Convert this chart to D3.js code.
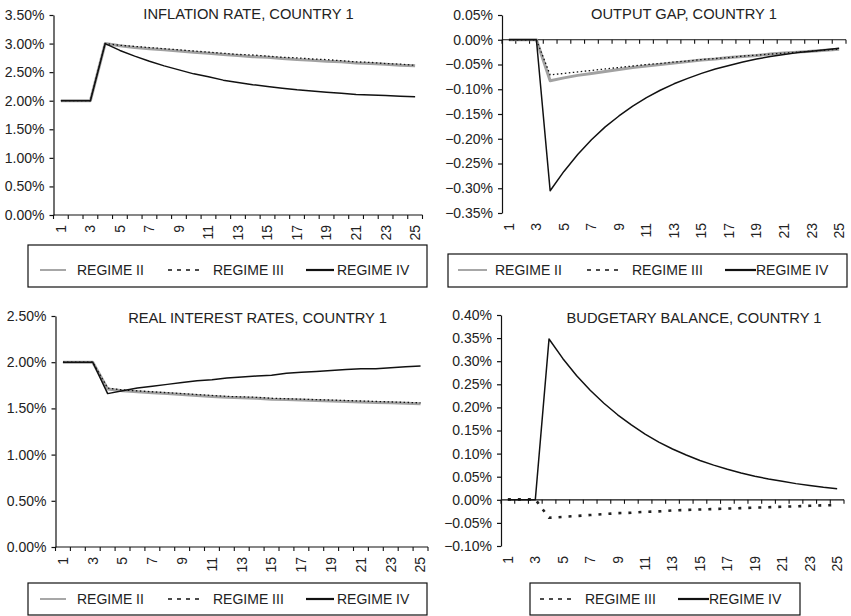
<!DOCTYPE html>
<html>
<head>
<meta charset="utf-8">
<script src="https://cdn.jsdelivr.net/npm/d3@7"></script>
<style>
  html, body { margin: 0; padding: 0; background: #fff; }
  svg { display: block; }
  text { font-family: "Liberation Sans", Arial, Helvetica, sans-serif; fill: #222; }
</style>
</head>
<body>
<svg id="chart" width="851" height="616"></svg>
<script>
// ---------------- DATA ----------------
const categories = [1,2,3,4,5,6,7,8,9,10,11,12,13,14,15,16,17,18,19,20,21,22,23,24,25];
const xTickLabels = [1,3,5,7,9,11,13,15,17,19,21,23,25];

// Inflation rate, country 1 (%)
const inflII  = [2.00,2.00,2.00,3.00,2.96,2.93,2.91,2.89,2.87,2.85,2.83,2.81,2.79,2.77,2.76,2.74,2.72,2.71,2.69,2.68,2.66,2.65,2.64,2.62,2.61];
const inflIII = [2.00,2.00,2.00,3.00,2.97,2.95,2.93,2.91,2.89,2.87,2.85,2.83,2.81,2.80,2.78,2.76,2.75,2.73,2.72,2.70,2.68,2.67,2.65,2.64,2.62];
const inflIV  = [2.00,2.00,2.00,3.00,2.88,2.78,2.69,2.61,2.54,2.47,2.42,2.36,2.32,2.28,2.25,2.22,2.19,2.17,2.15,2.13,2.11,2.10,2.09,2.08,2.07];
const inflTicks = [0,0.5,1,1.5,2,2.5,3,3.5];

// Output gap, country 1 (%)
const gapII  = [0,0,0,-0.083,-0.077,-0.072,-0.068,-0.064,-0.060,-0.056,-0.053,-0.050,-0.047,-0.044,-0.041,-0.039,-0.036,-0.034,-0.032,-0.029,-0.027,-0.025,-0.023,-0.021,-0.019];
const gapIII = [0,0,0,-0.071,-0.068,-0.065,-0.062,-0.059,-0.056,-0.053,-0.050,-0.048,-0.045,-0.043,-0.040,-0.038,-0.036,-0.033,-0.031,-0.029,-0.027,-0.025,-0.023,-0.021,-0.019];
const gapIV  = [0,0,0,-0.305,-0.266,-0.232,-0.202,-0.176,-0.154,-0.134,-0.117,-0.102,-0.089,-0.078,-0.068,-0.059,-0.052,-0.045,-0.039,-0.034,-0.030,-0.026,-0.023,-0.020,-0.017];
const gapTicks = [-0.35,-0.30,-0.25,-0.20,-0.15,-0.10,-0.05,0,0.05];

// Real interest rates, country 1 (%)
const rateII  = [2.00,2.00,2.00,1.71,1.69,1.68,1.67,1.66,1.65,1.64,1.63,1.62,1.615,1.61,1.60,1.595,1.59,1.585,1.58,1.575,1.57,1.565,1.56,1.555,1.55];
const rateIII = [2.00,2.00,2.00,1.72,1.70,1.69,1.68,1.67,1.66,1.65,1.64,1.63,1.625,1.62,1.61,1.605,1.60,1.595,1.59,1.585,1.58,1.575,1.57,1.565,1.56];
const rateIV  = [2.00,2.00,2.00,1.66,1.69,1.72,1.74,1.76,1.78,1.80,1.81,1.83,1.84,1.85,1.86,1.88,1.89,1.90,1.91,1.92,1.93,1.93,1.94,1.95,1.96];
const rateTicks = [0,0.5,1,1.5,2,2.5];

// Budgetary balance, country 1 (%)
const budgetIII = [0.001,0.001,0.001,-0.039,-0.037,-0.035,-0.033,-0.031,-0.029,-0.028,-0.026,-0.025,-0.023,-0.022,-0.021,-0.020,-0.019,-0.018,-0.017,-0.016,-0.015,-0.014,-0.013,-0.012,-0.011];
const budgetIV  = [0,0,0,0.348,0.306,0.269,0.237,0.209,0.184,0.162,0.142,0.125,0.110,0.097,0.085,0.075,0.066,0.058,0.051,0.045,0.040,0.035,0.031,0.027,0.024];
const budgetTicks = [-0.10,-0.05,0,0.05,0.10,0.15,0.20,0.25,0.30,0.35,0.40];

const titles = ["INFLATION RATE, COUNTRY 1","OUTPUT GAP, COUNTRY 1","REAL INTEREST RATES, COUNTRY 1","BUDGETARY BALANCE, COUNTRY 1"];
const regimeNames = {II: "REGIME II", III: "REGIME III", IV: "REGIME IV"};

// ---------------- STYLES ----------------
const styles = {
  II:  {stroke: "#a2a2a2", width: 3, dash: null},
  III: {stroke: "#111", width: 1.3, dash: "1.5,2.5"},
  IIIb:{stroke: "#222", width: 2.6, dash: "3,7"},
  IV:  {stroke: "#111", width: 1.5, dash: null}
};
const legendStyles = {
  II:  {stroke: "#8a8a8a", width: 1.5, dash: null},
  III: {stroke: "#111", width: 1.3, dash: "4,5"},
  IIIb:{stroke: "#111", width: 1.3, dash: "4,5"},
  IV:  {stroke: "#111", width: 2.2, dash: null}
};

const svg = d3.select("#chart");
const fmt = d => d3.format(".2f")(d) + "%";

function drawPanel(cfg) {
  const x = d3.scaleBand().domain(categories).range([cfg.left, cfg.right]).padding(0);
  const y = d3.scaleLinear().domain(cfg.domain).range([cfg.bottom, cfg.top]);
  const cx = c => x(c) + x.bandwidth() / 2;
  const g = svg.append("g");

  // y axis
  const ya = g.append("g")
    .attr("transform", `translate(${cfg.left},0)`)
    .call(d3.axisLeft(y).tickValues(cfg.ticks).tickSize(4).tickSizeOuter(0).tickPadding(5).tickFormat(fmt));
  ya.selectAll("text").style("font-size", "14px").attr("fill", "#222");
  ya.select(".domain").attr("stroke", "#111").attr("stroke-width", 1.2);
  ya.selectAll(".tick line").attr("stroke", "#111").attr("stroke-width", 1.2);

  // x axis line (at zero)
  const y0 = cfg.domain[0] < 0 ? y(0) : cfg.bottom;
  g.append("line")
    .attr("x1", cfg.left).attr("x2", cfg.right)
    .attr("y1", y0).attr("y2", y0)
    .attr("stroke", "#111").attr("stroke-width", 1.2);

  // boundary tick marks
  const bounds = categories.map(c => x(c)).concat([cfg.right]);
  g.selectAll("line.xt").data(bounds).join("line")
    .attr("class", "xt")
    .attr("x1", d => d).attr("x2", d => d)
    .attr("y1", y0).attr("y2", y0 + 4)
    .attr("stroke", "#111").attr("stroke-width", 1.1);

  // x labels (rotated)
  g.selectAll("text.xl").data(xTickLabels).join("text")
    .attr("class", "xl")
    .attr("transform", d => `translate(${cx(d)},${cfg.bottom + 10}) rotate(-90)`)
    .attr("text-anchor", "end")
    .attr("dy", "0.35em")
    .style("font-size", "14px")
    .text(d => d);

  // series
  const line = d3.line().x((d, i) => cx(categories[i])).y(d => y(d));
  cfg.series.forEach(s => {
    const st = styles[s.style];
    g.append("path")
      .datum(s.values)
      .attr("d", line)
      .attr("fill", "none")
      .attr("stroke", st.stroke)
      .attr("stroke-width", st.width)
      .attr("stroke-dasharray", st.dash)
      .attr("stroke-linejoin", "round");
  });

  // title
  g.append("text")
    .attr("x", cfg.titleX).attr("y", cfg.titleY)
    .attr("text-anchor", "middle")
    .style("font-size", "14.7px")
    .text(cfg.title);

  // legend
  const L = cfg.legend;
  g.append("rect")
    .attr("x", L.x).attr("y", L.y).attr("width", L.w).attr("height", L.h)
    .attr("fill", "none").attr("stroke", "#111").attr("stroke-width", 1.2);
  L.items.forEach(it => {
    const st = legendStyles[it.style];
    g.append("line")
      .attr("x1", it.x1).attr("x2", it.x2)
      .attr("y1", L.cy).attr("y2", L.cy)
      .attr("stroke", st.stroke).attr("stroke-width", st.width)
      .attr("stroke-dasharray", st.dash);
    g.append("text")
      .attr("x", it.tx).attr("y", L.cy).attr("dy", "0.36em")
      .style("font-size", "14px")
      .text(regimeNames[it.key]);
  });
}

drawPanel({
  left: 53.5, right: 422.5, top: 15, bottom: 215, domain: [0, 3.5], ticks: inflTicks,
  title: titles[0], titleX: 248.5, titleY: 18.5,
  series: [{style: "II", values: inflII}, {style: "III", values: inflIII}, {style: "IV", values: inflIV}],
  legend: {x: 28, y: 245, w: 399, h: 42, cy: 270, items: [
    {key: "II", style: "II", x1: 40, x2: 66, tx: 77},
    {key: "III", style: "III", x1: 168, x2: 202, tx: 213},
    {key: "IV", style: "IV", x1: 306, x2: 334, tx: 337}
  ]}
});

drawPanel({
  left: 502, right: 846, top: 15, bottom: 213, domain: [-0.35, 0.05], ticks: gapTicks,
  title: titles[1], titleX: 684, titleY: 18.5,
  series: [{style: "II", values: gapII}, {style: "III", values: gapIII}, {style: "IV", values: gapIV}],
  legend: {x: 448, y: 254, w: 399, h: 33, cy: 270, items: [
    {key: "II", style: "II", x1: 458, x2: 487, tx: 495},
    {key: "III", style: "III", x1: 587, x2: 620, tx: 632},
    {key: "IV", style: "IV", x1: 725, x2: 756, tx: 756}
  ]}
});

drawPanel({
  left: 55.5, right: 428, top: 316, bottom: 547, domain: [0, 2.5], ticks: rateTicks,
  title: titles[2], titleX: 257.5, titleY: 322.7,
  series: [{style: "II", values: rateII}, {style: "III", values: rateIII}, {style: "IV", values: rateIV}],
  legend: {x: 28, y: 583, w: 399, h: 32, cy: 599, items: [
    {key: "II", style: "II", x1: 40, x2: 66, tx: 77},
    {key: "III", style: "III", x1: 168, x2: 202, tx: 213},
    {key: "IV", style: "IV", x1: 306, x2: 334, tx: 337}
  ]}
});

drawPanel({
  left: 501, right: 844, top: 315, bottom: 546, domain: [-0.10, 0.40], ticks: budgetTicks,
  title: titles[3], titleX: 694, titleY: 322.7,
  series: [{style: "IIIb", values: budgetIII}, {style: "IV", values: budgetIV}],
  legend: {x: 530, y: 583, w: 270, h: 32, cy: 599, items: [
    {key: "III", style: "IIIb", x1: 540, x2: 573, tx: 585},
    {key: "IV", style: "IV", x1: 678, x2: 709, tx: 709}
  ]}
});
</script>
</body>
</html>
